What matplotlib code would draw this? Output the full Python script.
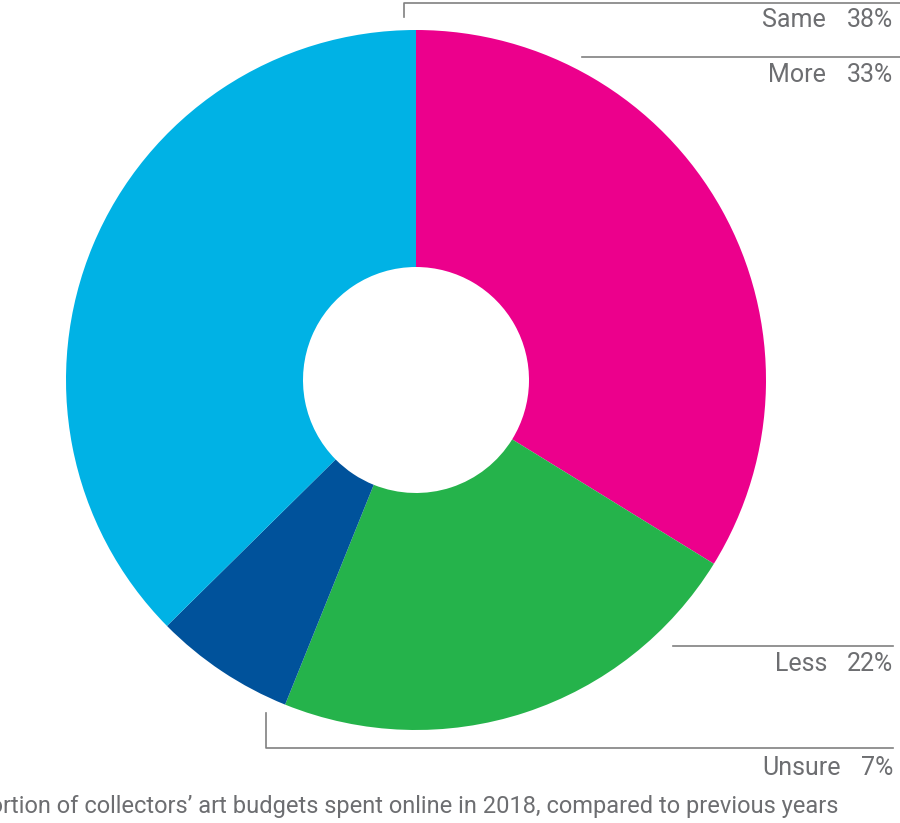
import matplotlib
matplotlib.use("Agg")
import matplotlib.pyplot as plt

# slices, clockwise from 12 o'clock
names = ["More", "Less", "Unsure", "Same"]
shares = [33.8, 22.3, 6.5, 37.4]
pct_labels = ["33%", "22%", "7%", "38%"]
colors = ["#EC008C", "#25B34B", "#00529B", "#00B2E5"]
caption = "Proportion of collectors\u2019 art budgets spent online in 2018, compared to previous years"

W, H = 900, 823
GRAY = "#6D6E71"
LINE = "#808080"

plt.rcParams["font.family"] = ["Roboto", "DejaVu Sans"]

fig = plt.figure(figsize=(W / 100, H / 100), dpi=100)
ax = fig.add_axes([0, 0, 1, 1])


def py(y):
    # pixel row -> data y
    return H - y


cx, cy, r_out, r_in = 416, py(380), 350, 113
ax.pie(shares, colors=colors, startangle=90, counterclock=False,
       center=(cx, cy), radius=r_out, frame=True,
       wedgeprops=dict(width=r_out - r_in, linewidth=0))
ax.set_xlim(0, W)
ax.set_ylim(0, H)
ax.set_aspect("equal")
ax.axis("off")

# leader lines
lw = 1.2
ax.plot([404, 404, W], [py(17), py(3), py(3)], color=LINE, lw=lw)
ax.plot([582, W], [py(57), py(57)], color=LINE, lw=lw)
ax.plot([673, 893], [py(646), py(646)], color=LINE, lw=lw)
ax.plot([266, 266, 893], [py(713), py(748), py(748)], color=LINE, lw=lw)

# label row (pixel y) and right edge of the name text
label_pos = {"Same": (20, 826), "More": (75, 826), "Less": (664, 827), "Unsure": (768, 841)}
for name, pct in zip(names, pct_labels):
    row, name_x = label_pos[name]
    y = py(row)
    ax.text(893, y, pct, ha="right", va="center", fontsize=18, color=GRAY)
    ax.text(name_x, y, name, ha="right", va="center", fontsize=18, color=GRAY)

ax.text(838, py(807), caption, ha="right", va="center", fontsize=17, color=GRAY)

fig.savefig("out.png", dpi=100)
